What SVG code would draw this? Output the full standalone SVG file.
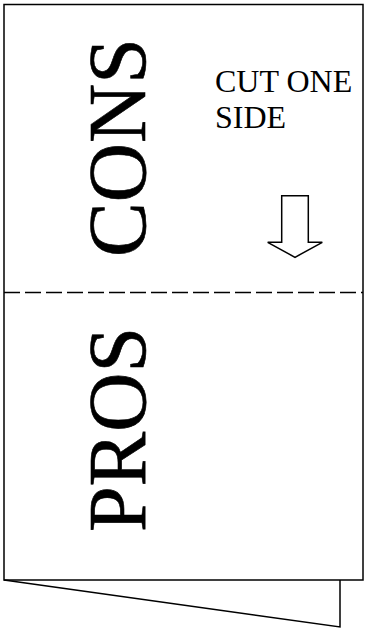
<svg xmlns="http://www.w3.org/2000/svg" width="367" height="635" viewBox="0 0 367 635">
<style>
.ln{fill:none;stroke:#000;stroke-width:1.5}
.big{font-family:"Liberation Serif",serif;font-size:82px;fill:#000;stroke:#000;stroke-width:0.6}
.sm{font-family:"Liberation Serif",serif;font-size:32px;fill:#000}
</style>
<rect width="367" height="635" fill="#fff"/>
<g id="sheet">
<polyline class="ln" points="4,580 340,627 340,580"/>
<rect class="ln" x="4" y="4.5" width="359" height="575.5" fill="#fff"/>
</g>
<g id="connectors">
<line class="ln" x1="4" y1="292.5" x2="363" y2="292.5" stroke-dasharray="16,5"/>
</g>
<g id="cons"><text class="big" transform="translate(145,257) rotate(-90)">CONS</text></g>
<g id="pros"><text class="big" transform="translate(145,532) rotate(-90)">PROS</text></g>
<g id="cut"><text class="sm" x="215" y="91.5">CUT ONE</text><text class="sm" x="215" y="127.5">SIDE</text></g>
<g id="arrow"><polygon class="ln" points="281.7,195.7 308.3,195.7 308.3,242.3 322.3,242.3 295,257.3 267.7,242.3 281.7,242.3"/></g>
</svg>
